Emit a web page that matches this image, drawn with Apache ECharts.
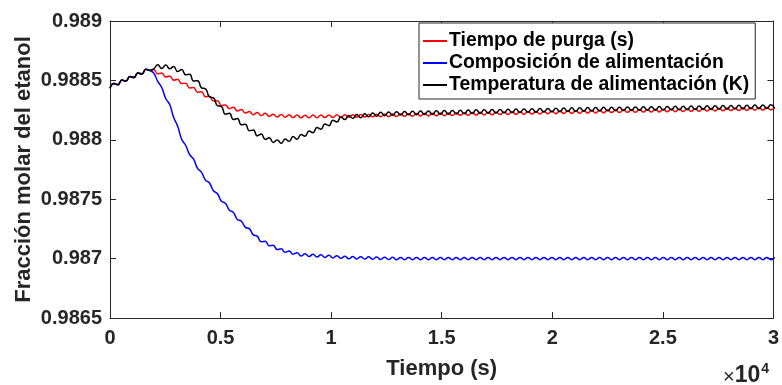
<!DOCTYPE html>
<html>
<head>
<meta charset="utf-8">
<script src="https://cdn.jsdelivr.net/npm/echarts@6/dist/echarts.min.js"></script>
<style>
html,body{margin:0;padding:0;background:#fff;}
#chart{width:782px;height:385px;}
</style>
</head>
<body>
<div id="chart"></div>
<script>
// ---- data ----
const seriesNames = ['Tiempo de purga (s)', 'Composición de alimentación', 'Temperatura de alimentación (K)'];
const xTickLabels = ['0', '0.5', '1', '1.5', '2', '2.5', '3'];
const yTickLabels = ['0.9865', '0.987', '0.9875', '0.988', '0.9885', '0.989'];
const sampleStep = 180; // seconds between successive samples (half a wiggle period)

const redValues = [
0.988434,0.988473,0.988464,0.988503,0.988494,0.988533,0.988524,0.988563,0.988554,0.988593,
0.988584,0.988590,0.988555,0.988563,0.988528,0.988537,0.988502,0.988510,0.988473,0.988477,
0.988437,0.988440,0.988400,0.988404,0.988363,0.988366,0.988326,0.988329,0.988289,0.988293,
0.988262,0.988274,0.988243,0.988256,0.988225,0.988238,0.988211,0.988230,0.988204,0.988223,
0.988198,0.988216,0.988192,0.988213,0.988190,0.988210,0.988187,0.988208,0.988185,0.988207,
0.988186,0.988208,0.988186,0.988209,0.988187,0.988209,0.988188,0.988210,0.988188,0.988211,
0.988189,0.988211,0.988190,0.988213,0.988191,0.988214,0.988193,0.988215,0.988194,0.988217,
0.988195,0.988218,0.988196,0.988219,0.988198,0.988220,0.988199,0.988221,0.988200,0.988223,
0.988201,0.988224,0.988202,0.988225,0.988203,0.988226,0.988205,0.988227,0.988206,0.988228,
0.988207,0.988230,0.988208,0.988231,0.988209,0.988232,0.988211,0.988233,0.988212,0.988234,
0.988213,0.988236,0.988214,0.988237,0.988215,0.988238,0.988217,0.988239,0.988218,0.988240,
0.988219,0.988242,0.988220,0.988243,0.988221,0.988244,0.988223,0.988245,0.988224,0.988246,
0.988225,0.988248,0.988226,0.988249,0.988227,0.988250,0.988229,0.988251,0.988230,0.988252,
0.988231,0.988254,0.988232,0.988255,0.988233,0.988256,0.988234,0.988257,0.988235,0.988258,
0.988236,0.988259,0.988237,0.988260,0.988239,0.988261,0.988240,0.988262,0.988241,0.988263,
0.988242,0.988265,0.988243,0.988266,0.988244,0.988267,0.988246,0.988268,0.988247,0.988269,
0.988248,0.988271,0.988249,0.988272,0.988250,0.988273,0.988252,0.988274
];

const blueValues = [
0.988434,0.988473,0.988464,0.988503,0.988494,0.988533,0.988524,0.988563,0.988554,0.988593,
0.988584,0.988560,0.988491,0.988440,0.988348,0.988297,0.988187,0.988115,0.988004,0.987954,
0.987876,0.987837,0.987759,0.987726,0.987661,0.987636,0.987571,0.987546,0.987483,0.987465,
0.987407,0.987389,0.987330,0.987315,0.987263,0.987252,0.987200,0.987189,0.987142,0.987146,
0.987109,0.987113,0.987076,0.987082,0.987054,0.987065,0.987037,0.987049,0.987022,0.987040,
0.987018,0.987036,0.987014,0.987032,0.987010,0.987028,0.987006,0.987024,0.987002,0.987020,
0.986998,0.987018,0.986997,0.987016,0.986996,0.987015,0.986994,0.987014,0.986993,0.987012,
0.986992,0.987011,0.986990,0.987010,0.986990,0.987010,0.986990,0.987010,0.986990,0.987010,
0.986990,0.987010,0.986990,0.987010,0.986990,0.987010,0.986990,0.987010,0.986990,0.987010,
0.986990,0.987010,0.986990,0.987010,0.986990,0.987010,0.986990,0.987010,0.986990,0.987010,
0.986990,0.987010,0.986990,0.987010,0.986990,0.987010,0.986990,0.987010,0.986990,0.987010,
0.986990,0.987010,0.986990,0.987010,0.986990,0.987010,0.986990,0.987010,0.986990,0.987010,
0.986990,0.987010,0.986990,0.987010,0.986990,0.987010,0.986990,0.987010,0.986990,0.987010,
0.986990,0.987010,0.986990,0.987010,0.986990,0.987010,0.986990,0.987010,0.986990,0.987010,
0.986990,0.987010,0.986990,0.987010,0.986990,0.987010,0.986990,0.987010,0.986990,0.987010,
0.986990,0.987010,0.986990,0.987010,0.986990,0.987010,0.986990,0.987010,0.986990,0.987010,
0.986990,0.987010,0.986990,0.987010,0.986990,0.987010,0.986990,0.987010
];

const blackValues = [
0.988434,0.988473,0.988464,0.988503,0.988494,0.988533,0.988524,0.988563,0.988554,0.988593,
0.988584,0.988597,0.988631,0.988600,0.988629,0.988598,0.988616,0.988574,0.988592,0.988548,
0.988551,0.988495,0.988498,0.988437,0.988429,0.988361,0.988353,0.988287,0.988280,0.988216,
0.988223,0.988171,0.988179,0.988126,0.988131,0.988077,0.988082,0.988034,0.988048,0.988003,
0.988018,0.987978,0.987999,0.987970,0.988007,0.987987,0.988027,0.988005,0.988045,0.988030,
0.988075,0.988060,0.988104,0.988089,0.988134,0.988119,0.988164,0.988149,0.988193,0.988170,
0.988205,0.988180,0.988213,0.988186,0.988219,0.988193,0.988226,0.988199,0.988232,0.988203,
0.988235,0.988206,0.988237,0.988208,0.988239,0.988210,0.988241,0.988211,0.988242,0.988213,
0.988243,0.988214,0.988244,0.988215,0.988246,0.988216,0.988247,0.988218,0.988249,0.988219,
0.988250,0.988221,0.988252,0.988222,0.988253,0.988224,0.988255,0.988225,0.988256,0.988227,
0.988257,0.988228,0.988259,0.988229,0.988260,0.988231,0.988262,0.988232,0.988263,0.988234,
0.988264,0.988235,0.988266,0.988237,0.988267,0.988238,0.988269,0.988239,0.988270,0.988241,
0.988271,0.988242,0.988272,0.988243,0.988273,0.988244,0.988274,0.988245,0.988275,0.988246,
0.988276,0.988247,0.988277,0.988248,0.988278,0.988249,0.988279,0.988249,0.988280,0.988250,
0.988281,0.988251,0.988282,0.988252,0.988283,0.988253,0.988284,0.988254,0.988285,0.988255,
0.988286,0.988256,0.988287,0.988257,0.988288,0.988258,0.988289,0.988259,0.988290,0.988260,
0.988291,0.988261,0.988292,0.988262,0.988293,0.988263,0.988294,0.988264
];

const seriesColors = ['#ff0000', '#0000ff', '#000000'];
// ---- end data ----

const X_MIN = 0, X_MAX = 30000, X_INT = 5000;
const Y_MIN = 0.9865, Y_MAX = 0.989, Y_INT = 0.0005;
const AXC = '#262626';
const FONT = '"Liberation Sans", Arial, Helvetica, sans-serif';

function toPairs(vals) {
  return vals.map((v, i) => [i * sampleStep, v]);
}

const chart = echarts.init(document.getElementById('chart'), null, { renderer: 'canvas' });

const baseX = {
  type: 'value', min: X_MIN, max: X_MAX, interval: X_INT,
  axisLine: { show: true, onZero: false, lineStyle: { color: AXC, width: 1 } },
  axisTick: { show: true, inside: true, length: 6, lineStyle: { color: AXC, width: 1 } },
  splitLine: { show: false }
};
const baseY = {
  type: 'value', min: Y_MIN, max: Y_MAX, interval: Y_INT,
  axisLine: { show: true, onZero: false, lineStyle: { color: AXC, width: 1 } },
  axisTick: { show: true, inside: true, length: 6, lineStyle: { color: AXC, width: 1 } },
  splitLine: { show: false }
};

const seriesData = [redValues, blueValues, blackValues];

chart.setOption({
  animation: false,
  backgroundColor: '#ffffff',
  textStyle: { fontFamily: FONT },
  grid: { left: 110, right: 8, top: 21, bottom: 65, containLabel: false },
  xAxis: [
    Object.assign({}, baseX, {
      position: 'bottom',
      axisLabel: {
        show: true, margin: 10, color: AXC, fontSize: 20, fontWeight: 'bold', fontFamily: FONT,
        formatter: v => xTickLabels[Math.round((v - X_MIN) / X_INT)] ?? ''
      },
      name: 'Tiempo (s)', nameLocation: 'middle', nameGap: 40, nameMoveOverlap: false,
      nameTextStyle: { color: AXC, fontSize: 22, fontWeight: 'bold', fontFamily: FONT }
    }),
    Object.assign({}, baseX, { position: 'top', axisLabel: { show: false } })
  ],
  yAxis: [
    Object.assign({}, baseY, {
      position: 'left',
      axisLabel: {
        show: true, margin: 8, color: AXC, fontSize: 20, fontWeight: 'bold', fontFamily: FONT,
        formatter: v => yTickLabels[Math.round((v - Y_MIN) / Y_INT)] ?? ''
      },
      name: 'Fracción molar del etanol', nameLocation: 'middle', nameGap: 75, nameMoveOverlap: false,
      nameTextStyle: { color: AXC, fontSize: 22, fontWeight: 'bold', fontFamily: FONT }
    }),
    Object.assign({}, baseY, { position: 'right', axisLabel: { show: false } })
  ],
  legend: {
    orient: 'vertical', left: 419, top: 23,
    icon: 'rect',
    itemWidth: 24, itemHeight: 2, itemGap: 0,
    padding: [7, 6, 3, 4],
    backgroundColor: '#ffffff', borderColor: AXC, borderWidth: 1, borderRadius: 0,
    textStyle: { color: '#000', fontSize: 19.4, fontWeight: 'bold', fontFamily: FONT, lineHeight: 22, padding: [0, 0, 0, -3] },
    data: seriesNames
  },
  graphic: [{
    type: 'text', left: 723, top: 359,
    style: {
      text: '{x|×}{b|10}{s|4}',
      rich: {
        x: { fontSize: 20, fontFamily: FONT, fill: AXC, verticalAlign: 'bottom', lineHeight: 28 },
        b: { fontSize: 23, fontWeight: 'bold', fontFamily: FONT, fill: AXC, verticalAlign: 'bottom', lineHeight: 28 },
        s: { fontSize: 14, fontWeight: 'bold', fontFamily: FONT, fill: AXC, verticalAlign: 'top', lineHeight: 28, padding: [3, 0, 0, 1] }
      }
    }
  }],
  series: seriesData.map((vals, i) => ({
    name: seriesNames[i],
    type: 'line',
    xAxisIndex: 0, yAxisIndex: 0,
    data: toPairs(vals),
    showSymbol: false, symbol: 'none',
    smooth: 0.5,
    clip: true,
    lineStyle: { color: seriesColors[i], width: 1.5 },
    itemStyle: { color: seriesColors[i] },
    z: 2 + i
  }))
});
</script>
</body>
</html>
